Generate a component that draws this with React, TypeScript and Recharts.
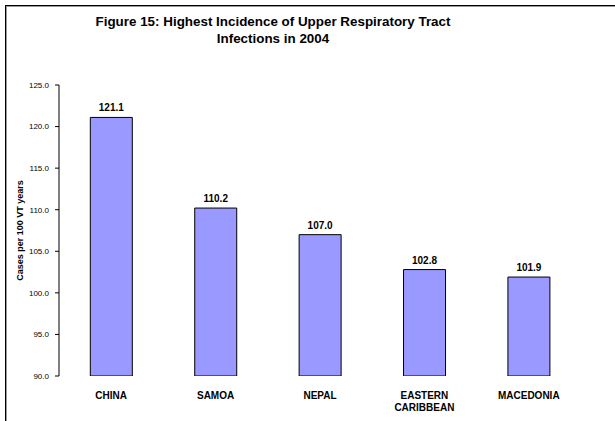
import React from 'react';
import { BarChart, Bar, XAxis, YAxis, LabelList } from 'recharts';

const categories = ['CHINA', 'SAMOA', 'NEPAL', 'EASTERN CARIBBEAN', 'MACEDONIA'];
const incidence = [121.1, 110.2, 107.0, 102.8, 101.9];
const yTicks = [90, 95, 100, 105, 110, 115, 120, 125];
const boundaryTicks = [0, 1, 2, 3, 4, 5];

const data = categories.map((name, i) => ({ name, value: incidence[i] }));

const FONT = '"Liberation Sans", Arial, sans-serif';

const CategoryTick = (props: any) => {
  const { x, y, payload } = props;
  const words = String(payload.value).split(' ');
  return (
    <text x={x} y={y} textAnchor="middle" fontFamily={FONT} fontSize={10} fontWeight="bold" fill="#000">
      {words.map((w: string, i: number) => (
        <tspan key={i} x={x} dy={i === 0 ? 14.5 : 12.5}>{w}</tspan>
      ))}
    </text>
  );
};

const YLabel = (props: any) => {
  const vb = props.viewBox || {};
  const cx = vb.x + 5;
  const cy = vb.y + vb.height / 2;
  return (
    <text
      x={cx}
      y={cy}
      transform={`rotate(-90, ${cx}, ${cy})`}
      textAnchor="middle"
      dominantBaseline="central"
      fontFamily={FONT}
      fontSize={9}
      fontWeight="bold"
      fill="#000"
    >
      Cases per 100 VT years
    </text>
  );
};

export default function App() {
  return (
    <div style={{ position: 'absolute', left: 0, top: 0, width: 615, height: 421, overflow: 'hidden', background: '#fff' }}>
      <div
        style={{
          position: 'absolute',
          left: 5,
          top: 5,
          width: 700,
          height: 500,
          borderLeft: '1px solid #000',
          borderTop: '1px solid #000',
          boxShadow: 'inset 1px 1px 0 #999',
        }}
      />
      <div
        style={{
          position: 'absolute',
          left: 0,
          width: 546,
          top: 13,
          textAlign: 'center',
          fontFamily: FONT,
          fontWeight: 'bold',
          fontSize: 13.4,
          lineHeight: '17px',
          color: '#000',
        }}
      >
        Figure 15: Highest Incidence of Upper Respiratory Tract
        <br />
        Infections in 2004
      </div>
      <div style={{ position: 'absolute', left: 0, top: 0 }}>
        <BarChart
          width={615}
          height={421}
          data={data}
          margin={{ top: 85, right: 34, bottom: 0, left: 15 }}
          barCategoryGap="30%"
        >
          <XAxis
            xAxisId="grid"
            type="number"
            domain={[0, 5]}
            ticks={boundaryTicks}
            tick={false}
            height={0}
            tickSize={4}
            axisLine={{ stroke: '#000' }}
            tickLine={{ stroke: '#000' }}
            allowDataOverflow
          />
          <XAxis
            xAxisId="cat"
            dataKey="name"
            height={45}
            axisLine={false}
            tickLine={false}
            interval={0}
            tick={<CategoryTick />}
          />
          <YAxis
            domain={[90, 125]}
            ticks={yTicks}
            width={44}
            tickSize={4}
            tickMargin={6}
            allowDataOverflow
            tickFormatter={(v: number) => v.toFixed(1)}
            tick={{ fontFamily: FONT, fontSize: 8, fill: '#000' }}
            axisLine={{ stroke: '#000' }}
            tickLine={{ stroke: '#000' }}
            label={<YLabel />}
          />
          <Bar xAxisId="cat" dataKey="value" fill="#9999FF" stroke="#000" strokeWidth={1} isAnimationActive={false}>
            <LabelList
              dataKey="value"
              position="top"
              offset={6}
              formatter={(v: number) => v.toFixed(1)}
              style={{ fontFamily: FONT, fontSize: 10, fontWeight: 'bold', fill: '#000' }}
            />
          </Bar>
        </BarChart>
      </div>
    </div>
  );
}
